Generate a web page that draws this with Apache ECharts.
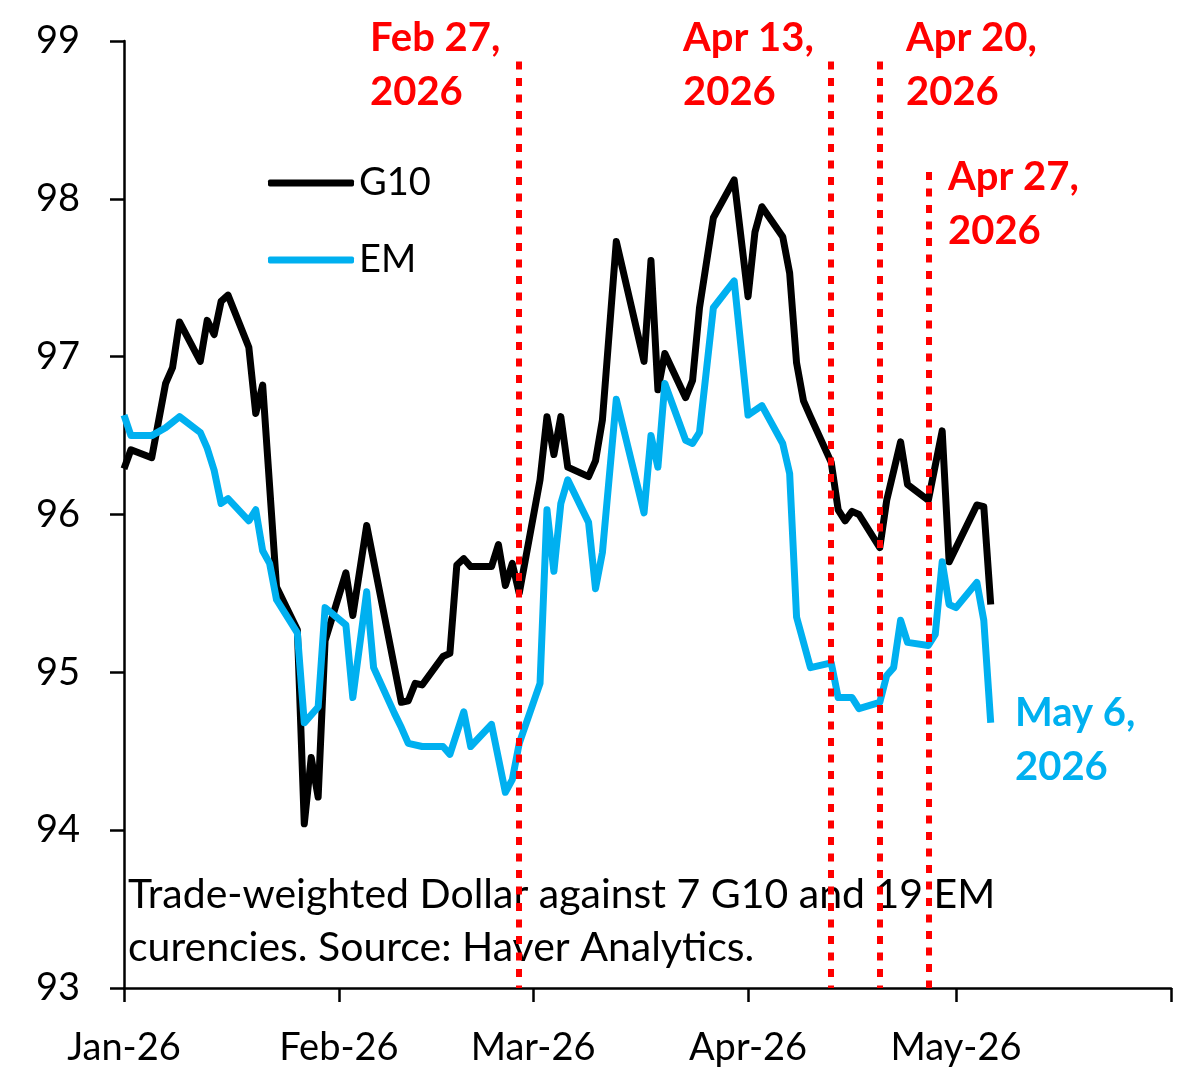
<!DOCTYPE html>
<html>
<head>
<meta charset="utf-8">
<script src="https://cdn.jsdelivr.net/npm/echarts@6/dist/echarts.min.js"></script>
<style>
  html, body { margin: 0; padding: 0; background: #fff; }
  #chart { width: 1200px; height: 1077px; }
</style>
</head>
<body>
<div id="chart"></div>
<script>
var g10Dates = ['2026-01-01', '2026-01-02', '2026-01-05', '2026-01-07', '2026-01-08', '2026-01-09',
    '2026-01-12', '2026-01-13', '2026-01-14', '2026-01-15', '2026-01-16', '2026-01-19', '2026-01-20',
    '2026-01-21', '2026-01-23', '2026-01-26', '2026-01-27', '2026-01-28', '2026-01-29', '2026-01-30',
    '2026-02-02', '2026-02-03', '2026-02-05', '2026-02-10', '2026-02-11', '2026-02-12', '2026-02-13',
    '2026-02-16', '2026-02-17', '2026-02-18', '2026-02-19', '2026-02-20', '2026-02-23', '2026-02-24',
    '2026-02-25', '2026-02-26', '2026-02-27', '2026-03-02', '2026-03-03', '2026-03-04', '2026-03-05',
    '2026-03-06', '2026-03-09', '2026-03-10', '2026-03-11', '2026-03-13', '2026-03-17', '2026-03-18',
    '2026-03-19', '2026-03-20', '2026-03-23', '2026-03-24', '2026-03-25', '2026-03-27', '2026-03-30',
    '2026-04-01', '2026-04-02', '2026-04-03', '2026-04-06', '2026-04-07', '2026-04-08', '2026-04-09',
    '2026-04-10', '2026-04-13', '2026-04-14', '2026-04-15', '2026-04-16', '2026-04-17', '2026-04-20',
    '2026-04-21', '2026-04-23', '2026-04-24', '2026-04-27', '2026-04-29', '2026-04-30', '2026-05-04',
    '2026-05-05', '2026-05-06'];
var g10Values = [96.29, 96.41, 96.36, 96.83, 96.93, 97.22,
    96.97, 97.23, 97.14, 97.35, 97.39, 97.06, 96.64,
    96.82, 95.54, 95.27, 94.04, 94.46, 94.21, 95.20,
    95.63, 95.36, 95.93, 94.81, 94.82, 94.93, 94.92,
    95.10, 95.12, 95.68, 95.72, 95.67, 95.67, 95.81,
    95.55, 95.69, 95.50, 96.22, 96.62, 96.38, 96.62,
    96.30, 96.24, 96.34, 96.60, 97.73, 96.97, 97.61,
    96.79, 97.02, 96.74, 96.85, 97.31, 97.88, 98.12,
    97.38, 97.79, 97.95, 97.76, 97.53, 96.96, 96.72,
    96.62, 96.33, 96.03, 95.96, 96.02, 96.00, 95.79,
    96.09, 96.46, 96.19, 96.09, 96.53, 95.70, 96.06,
    96.05, 95.43];

var emDates = ['2026-01-01', '2026-01-02', '2026-01-05', '2026-01-07', '2026-01-09', '2026-01-12',
    '2026-01-13', '2026-01-14', '2026-01-15', '2026-01-16', '2026-01-19', '2026-01-20', '2026-01-21',
    '2026-01-22', '2026-01-23', '2026-01-26', '2026-01-27', '2026-01-29', '2026-01-30', '2026-02-02',
    '2026-02-03', '2026-02-05', '2026-02-06', '2026-02-09', '2026-02-10', '2026-02-11', '2026-02-13',
    '2026-02-16', '2026-02-17', '2026-02-19', '2026-02-20', '2026-02-23', '2026-02-25', '2026-02-26',
    '2026-02-27', '2026-03-02', '2026-03-03', '2026-03-04', '2026-03-05', '2026-03-06', '2026-03-09',
    '2026-03-10', '2026-03-11', '2026-03-13', '2026-03-17', '2026-03-18', '2026-03-19', '2026-03-20',
    '2026-03-23', '2026-03-24', '2026-03-25', '2026-03-27', '2026-03-30', '2026-04-01', '2026-04-03',
    '2026-04-06', '2026-04-07', '2026-04-08', '2026-04-10', '2026-04-13', '2026-04-14', '2026-04-16',
    '2026-04-17', '2026-04-20', '2026-04-21', '2026-04-22', '2026-04-23', '2026-04-24', '2026-04-27',
    '2026-04-28', '2026-04-29', '2026-04-30', '2026-05-01', '2026-05-04', '2026-05-05', '2026-05-06'];
var emValues = [96.63, 96.50, 96.50, 96.55, 96.62, 96.52,
    96.42, 96.28, 96.07, 96.10, 95.96, 96.03, 95.77,
    95.69, 95.46, 95.25, 94.68, 94.78, 95.41, 95.30,
    94.84, 95.51, 95.03, 94.74, 94.65, 94.55, 94.53,
    94.53, 94.48, 94.75, 94.53, 94.67, 94.24, 94.32,
    94.55, 94.93, 96.03, 95.64, 96.07, 96.22, 95.95,
    95.53, 95.76, 96.73, 96.01, 96.50, 96.30, 96.83,
    96.47, 96.45, 96.52, 97.31, 97.48, 96.63, 96.69,
    96.45, 96.26, 95.35, 95.03, 95.06, 94.84, 94.84,
    94.77, 94.81, 94.98, 95.03, 95.33, 95.19, 95.17,
    95.24, 95.70, 95.43, 95.41, 95.57, 95.33, 94.68];

// vertical event markers: date and where the dotted line starts
var eventDates = ['2026-02-27', '2026-04-13', '2026-04-20', '2026-04-27'];
var eventTops = [98.87, 98.87, 98.87, 98.17];
var eventLabels = ['Feb 27,\n2026', 'Apr 13,\n2026', 'Apr 20,\n2026', 'Apr 27,\n2026'];

var tickDates = ['2026-01-01', '2026-02-01', '2026-03-01', '2026-04-01', '2026-05-01', '2026-06-01'];
var tickLabels = ['Jan-26', 'Feb-26', 'Mar-26', 'Apr-26', 'May-26', ''];

var FONT = 'Lato';

function ts(d) {
    return Date.UTC(+d.slice(0, 4), +d.slice(5, 7) - 1, +d.slice(8, 10));
}
function pairs(dates, values) {
    return dates.map(function (d, i) { return [ts(d), values[i]]; });
}
var tickTimes = tickDates.map(ts);

var chart = echarts.init(document.getElementById('chart'), null, { renderer: 'canvas' });

var markData = eventDates.map(function (d, i) {
    return [{ coord: [ts(d), eventTops[i]] }, { coord: [ts(d), 93] }];
});

var option = {
    animation: false,
    textStyle: { fontFamily: FONT },
    grid: { left: 124, right: 29, top: 41, bottom: 89, containLabel: false, outerBoundsMode: 'none' },
    legend: {
        data: ['G10', 'EM'],
        orient: 'vertical',
        left: 263,
        top: 159,
        icon: 'roundRect',
        itemWidth: 86,
        itemHeight: 7,
        itemGap: 39,
        textStyle: { fontFamily: FONT, fontSize: 38, color: '#000' }
    },
    xAxis: {
        type: 'value',
        min: tickTimes[0],
        max: tickTimes[tickTimes.length - 1],
        axisLine: { lineStyle: { color: '#000', width: 2.5 } },
        axisTick: { show: true, length: 14, lineStyle: { color: '#000', width: 2.5 }, customValues: tickTimes },
        axisLabel: {
            customValues: tickTimes,
            margin: 41,
            fontSize: 38,
            color: '#000',
            fontFamily: FONT,
            formatter: function (v) {
                var i = tickTimes.indexOf(v);
                return i >= 0 ? tickLabels[i] : '';
            }
        },
        splitLine: { show: false }
    },
    yAxis: {
        type: 'value',
        min: 93,
        max: 99,
        interval: 1,
        axisLine: { show: true, lineStyle: { color: '#000', width: 2.5 } },
        axisTick: { show: true, length: 14, lineStyle: { color: '#000', width: 2.5 } },
        axisLabel: { margin: 44, fontSize: 38, color: '#000', fontFamily: FONT },
        splitLine: { show: false }
    },
    series: [
        {
            name: 'G10',
            type: 'line',
            data: pairs(g10Dates, g10Values),
            showSymbol: false,
            symbol: 'none',
            lineStyle: { color: '#000000', width: 7, join: 'round' },
            itemStyle: { color: '#000000' },
            z: 2
        },
        {
            name: 'EM',
            type: 'line',
            data: pairs(emDates, emValues),
            showSymbol: false,
            symbol: 'none',
            lineStyle: { color: '#00B0F0', width: 7, join: 'round' },
            itemStyle: { color: '#00B0F0' },
            z: 3
        },
        {
            name: 'events',
            type: 'line',
            data: [],
            z: 5,
            markLine: {
                silent: true,
                symbol: ['none', 'none'],
                label: { show: false },
                lineStyle: { color: '#FF0000', width: 6, type: [8, 8.5], cap: 'butt' },
                data: markData
            }
        }
    ],
    graphic: [
        { type: 'text', left: 370, top: 11, style: { text: eventLabels[0], font: 'bold 40px ' + FONT, fill: '#FF0000', lineHeight: 54 } },
        { type: 'text', left: 683, top: 11, style: { text: eventLabels[1], font: 'bold 40px ' + FONT, fill: '#FF0000', lineHeight: 54 } },
        { type: 'text', left: 906, top: 11, style: { text: eventLabels[2], font: 'bold 40px ' + FONT, fill: '#FF0000', lineHeight: 54 } },
        { type: 'text', left: 948, top: 150, style: { text: eventLabels[3], font: 'bold 40px ' + FONT, fill: '#FF0000', lineHeight: 54 } },
        { type: 'text', left: 1015, top: 686, style: { text: 'May 6,\n2026', font: 'bold 40px ' + FONT, fill: '#00B0F0', lineHeight: 54 } },
        {
            type: 'text', left: 128, top: 868, z: 1,
            style: {
                text: 'Trade-weighted Dollar against 7 G10 and 19 EM\ncurencies. Source: Haver Analytics.',
                font: '41px ' + FONT, fill: '#000', lineHeight: 53
            }
        }
    ]
};

chart.setOption(option);

window.addEventListener('resize', function () {
    chart.resize();
});
</script>
</body>
</html>
